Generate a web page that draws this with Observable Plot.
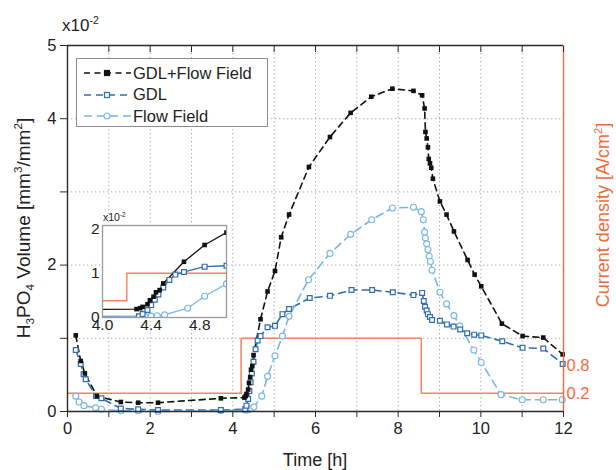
<!DOCTYPE html>
<html><head><meta charset="utf-8">
<script src="https://cdn.jsdelivr.net/npm/d3@7"></script>
<script src="https://cdn.jsdelivr.net/npm/@observablehq/plot@0.6"></script>
<style>
body{margin:0;background:#fff;font-family:"Liberation Sans",Arial,sans-serif}
#wrap{position:relative;width:616px;height:470px;overflow:hidden}
.abs{position:absolute;white-space:nowrap;line-height:1}
sub,sup{font-size:0.62em;line-height:0}
</style></head><body><div id="wrap"></div>
<script>
// ---- data ----
const seriesNames = ["GDL+Flow Field", "GDL", "Flow Field"];
const timeGF = [0.2,0.32,0.42,0.71,1.29,1.71,2.19,3.71,4.28,4.31,4.33,4.37,4.39,4.42,4.44,4.47,4.50,4.67,4.84,5.02,5.17,5.36,5.84,6.35,6.85,7.35,7.86,8.37,8.58,8.64,8.66,8.69,8.72,8.74,8.77,8.80,8.84,9.01,9.17,9.35,9.68,9.85,10.01,10.51,11.01,11.51,11.98];
const volGF  = [1.04,0.69,0.52,0.21,0.13,0.12,0.12,0.18,0.19,0.21,0.24,0.30,0.39,0.47,0.57,0.62,0.77,1.26,1.64,1.92,2.38,2.69,3.34,3.75,4.08,4.30,4.41,4.38,4.32,4.14,3.82,3.73,3.61,3.45,3.39,3.33,3.18,2.87,2.69,2.46,2.07,1.87,1.71,1.20,1.03,1.01,0.78];
const timeGDL = [0.2,0.32,0.39,0.44,0.69,0.82,1.29,1.71,2.19,3.71,4.30,4.33,4.37,4.40,4.43,4.46,4.50,4.55,4.60,4.67,4.84,5.02,5.20,5.36,5.86,6.35,6.87,7.37,7.87,8.37,8.58,8.62,8.65,8.69,8.72,8.77,8.82,9.01,9.18,9.34,9.50,9.67,9.84,10.01,10.52,11.01,11.51,11.98];
const volGDL  = [0.84,0.65,0.51,0.44,0.21,0.18,0.04,0.03,0.02,0.02,0.03,0.08,0.17,0.28,0.40,0.52,0.68,0.85,0.97,1.03,1.15,1.17,1.33,1.40,1.55,1.58,1.66,1.66,1.63,1.59,1.62,1.51,1.43,1.38,1.33,1.29,1.25,1.24,1.19,1.16,1.12,1.07,1.05,1.04,0.96,0.87,0.86,0.65];
const timeFF = [0.2,0.28,0.4,0.68,0.82,1.29,1.71,2.19,3.71,4.30,4.35,4.40,4.45,4.51,4.70,4.84,5.02,5.20,5.36,5.83,6.35,6.85,7.36,7.86,8.37,8.56,8.61,8.64,8.66,8.69,8.72,8.75,8.78,8.82,9.01,9.17,9.35,9.49,9.83,10.01,10.49,11.0,11.51,11.97];
const volFF  = [0.21,0.13,0.08,0.05,0.03,0.01,0.01,0.0,0.01,0.02,0.02,0.03,0.04,0.06,0.21,0.48,0.76,1.03,1.30,1.80,2.16,2.42,2.62,2.78,2.79,2.73,2.62,2.45,2.37,2.29,2.21,2.12,2.05,1.93,1.63,1.47,1.31,1.17,0.84,0.67,0.23,0.16,0.16,0.16];
// current density step (A/cm², read against the right axis)
const stepTime = [0, 4.2, 8.56, 12];
const currentDensity = [0.2, 1.38, 0.2];
// ticks
const xTickHours = [0,1,2,3,4,5,6,7,8,9,10,11,12];
const xLabelHours = [0,2,4,6,8,10,12];
const yTickVals = [0,1,2,3,4,5];
const yLabelVals = [0,2,4,5];
const gridHours = [1,2,3,4,5,6,7,8,9,10,11];
const gridVols = [1,2,3,4];
const rightTicks = [0.2, 0.8];
const insetXTicks = [4.0, 4.4, 4.8];
const insetYTicks = [0, 1, 2];

// ---- styles ----
const FONT = '"Liberation Sans", Arial, sans-serif';
const orange = "#f26a3c";
const stepColor = "#f4845e";
const colors = ["#111111", "#2f6cb3", "#78b6e6"];
const dashes = ["6,4.5", "7,5", "8,5"];

const gf = timeGF.map((t, i) => ({t, v: volGF[i]}));
const gdl = timeGDL.map((t, i) => ({t, v: volGDL[i]}));
const ff = timeFF.map((t, i) => ({t, v: volFF[i]}));
const steps = stepTime.map((t, i) => ({t, c: currentDensity[Math.min(i, currentDensity.length - 1)]}));

// secondary (right) axis: current density -> left-axis units
const toLeft = d3.scaleLinear().domain([0.2, 0.8]).range([0.249, 0.632]);
// inset secondary scale (unlabelled in the original)
const toInset = d3.scaleLinear().domain([0.2, 1.38]).range([0.38, 1.0]);

function seriesMarks(solid, clip) {
  const sets = [gf, gdl, ff];
  const out = [];
  sets.forEach((data, k) => {
    out.push(Plot.line(data, {x: "t", y: "v", stroke: colors[k], strokeWidth: solid ? 1.3 : 1.6,
      strokeDasharray: solid ? null : dashes[k], clip}));
  });
  out.push(Plot.dot(ff, {x: "t", y: "v", symbol: "circle", r: 3, fill: "white", stroke: colors[2], strokeWidth: 1.1, clip}));
  out.push(Plot.dot(gdl, {x: "t", y: "v", symbol: "square", r: 2.7, fill: "white", stroke: colors[1], strokeWidth: 1.2, clip}));
  out.push(Plot.dot(gf, {x: "t", y: "v", symbol: "square", r: 2.6, fill: colors[0], stroke: "none", clip}));
  return out;
}

const wrap = document.getElementById("wrap");

const main = Plot.plot({
  width: 616, height: 470,
  marginLeft: 67, marginRight: 53, marginTop: 45, marginBottom: 59,
  x: {domain: [0, 12]},
  y: {domain: [0, 5]},
  style: {fontFamily: FONT, background: "white", overflow: "visible"},
  marks: [
    Plot.ruleX(gridHours, {stroke: "#a8a8a8", strokeWidth: 1, strokeDasharray: "1.3,2.7"}),
    Plot.ruleY(gridVols, {stroke: "#a8a8a8", strokeWidth: 1, strokeDasharray: "1.3,2.7"}),
    Plot.line(steps, {x: "t", y: d => toLeft(d.c), curve: "step-after", stroke: stepColor, strokeWidth: 1.5}),
    ...seriesMarks(false, false),
    Plot.ruleY([0, 5], {stroke: "#2a2a2a", strokeWidth: 1.4}),
    Plot.ruleX([0], {stroke: "#2a2a2a", strokeWidth: 1.4}),
    Plot.ruleX([12], {stroke: orange, strokeWidth: 1.4}),
    Plot.axisX(xTickHours, {anchor: "bottom", label: null, tickSize: 6, tickPadding: 5, fontSize: 16.5, fill: "#222", stroke: "#2a2a2a",
      tickFormat: d => xLabelHours.includes(d) ? String(d) : ""}),
    Plot.axisX(xTickHours, {anchor: "top", label: null, tickSize: 6, dy: 6, tickFormat: () => "", stroke: "#2a2a2a"}),
    Plot.axisY(yTickVals, {anchor: "left", label: null, tickSize: 7, tickPadding: 4, fontSize: 16.5, fill: "#222", stroke: "#2a2a2a",
      tickFormat: d => yLabelVals.includes(d) ? String(d) : ""}),
    Plot.axisY(rightTicks.map(toLeft), {anchor: "right", label: null, tickSize: 0, tickPadding: 3, fontSize: 16.5, fill: orange,
      tickFormat: d => d3.format(".1f")(toLeft.invert(d))})
  ]
});
wrap.appendChild(main);

// inset
const inset = Plot.plot({
  width: 148, height: 124,
  marginLeft: 20, marginRight: 4, marginTop: 12, marginBottom: 20,
  x: {domain: [4.0, 5.02]},
  y: {domain: [0, 2.08]},
  style: {fontFamily: FONT, background: "transparent", overflow: "visible"},
  marks: [
    Plot.frame({fill: "white", stroke: "none"}),
    Plot.line(steps, {x: "t", y: d => toInset(d.c), curve: "step-after", stroke: stepColor, strokeWidth: 1.4, clip: true}),
    ...seriesMarks(true, true),
    Plot.frame({stroke: "#9a9a9a", strokeWidth: 1.3}),
    Plot.axisX(insetXTicks, {anchor: "bottom", label: null, tickSize: 0, tickPadding: 1, fontSize: 15.5, fill: "#222", tickFormat: d3.format(".1f")}),
    Plot.axisY(insetYTicks, {anchor: "left", label: null, tickSize: 0, tickPadding: 3, fontSize: 15.5, fill: "#222"})
  ]
});
inset.style.position = "absolute";
inset.style.left = "82px";
inset.style.top = "213px";
wrap.appendChild(inset);

function addText(html, css) {
  const d = document.createElement("div");
  d.className = "abs";
  d.innerHTML = html;
  Object.assign(d.style, css);
  wrap.appendChild(d);
  return d;
}
addText("x10<sup>-2</sup>", {left: "62px", top: "17px", fontSize: "17px", color: "#222"});
addText("x10<sup>-2</sup>", {left: "103px", top: "212px", fontSize: "10.5px", color: "#222"});
addText("H<sub>3</sub>PO<sub>4</sub> Volume [mm<sup>3</sup>/mm<sup>2</sup>]",
  {left: "23px", top: "228px", fontSize: "19px", color: "#222", transform: "translate(-50%,-50%) rotate(-90deg)"});
addText("Current density [A/cm<sup>2</sup>]",
  {left: "603px", top: "215px", fontSize: "18px", color: orange, transform: "translate(-50%,-50%) rotate(-90deg)"});
addText("Time [h]", {left: "315px", top: "460px", fontSize: "18px", color: "#222", transform: "translate(-50%,-50%)"});

// legend
const legend = document.createElement("div");
Object.assign(legend.style, {position: "absolute", left: "76px", top: "58px", width: "190px", height: "67px",
  border: "1.3px solid #8c8c8c", background: "white"});
wrap.appendChild(legend);
seriesNames.forEach((name, k) => {
  const cy = 14 + k * 21.5;
  const ns = "http://www.w3.org/2000/svg";
  const svg = document.createElementNS(ns, "svg");
  svg.setAttribute("width", 50); svg.setAttribute("height", 14);
  Object.assign(svg.style, {position: "absolute", left: "6px", top: (cy - 7) + "px"});
  const ln = document.createElementNS(ns, "line");
  ln.setAttribute("x1", 1); ln.setAttribute("x2", 48); ln.setAttribute("y1", 7); ln.setAttribute("y2", 7);
  ln.setAttribute("stroke", colors[k]); ln.setAttribute("stroke-width", 1.6); ln.setAttribute("stroke-dasharray", dashes[k]);
  svg.appendChild(ln);
  let m;
  if (k === 2) {
    m = document.createElementNS(ns, "circle");
    m.setAttribute("cx", 24); m.setAttribute("cy", 7); m.setAttribute("r", 3);
  } else {
    m = document.createElementNS(ns, "rect");
    m.setAttribute("x", 21.5); m.setAttribute("y", 4.5); m.setAttribute("width", 5); m.setAttribute("height", 5);
  }
  m.setAttribute("fill", k === 0 ? colors[0] : "white");
  m.setAttribute("stroke", colors[k]); m.setAttribute("stroke-width", 1.2);
  svg.appendChild(m);
  legend.appendChild(svg);
  const t = document.createElement("div");
  t.className = "abs";
  t.textContent = name;
  Object.assign(t.style, {left: "56px", top: (cy - 8.5) + "px", fontSize: "16.5px", color: "#222"});
  legend.appendChild(t);
});
</script>
</body></html>
